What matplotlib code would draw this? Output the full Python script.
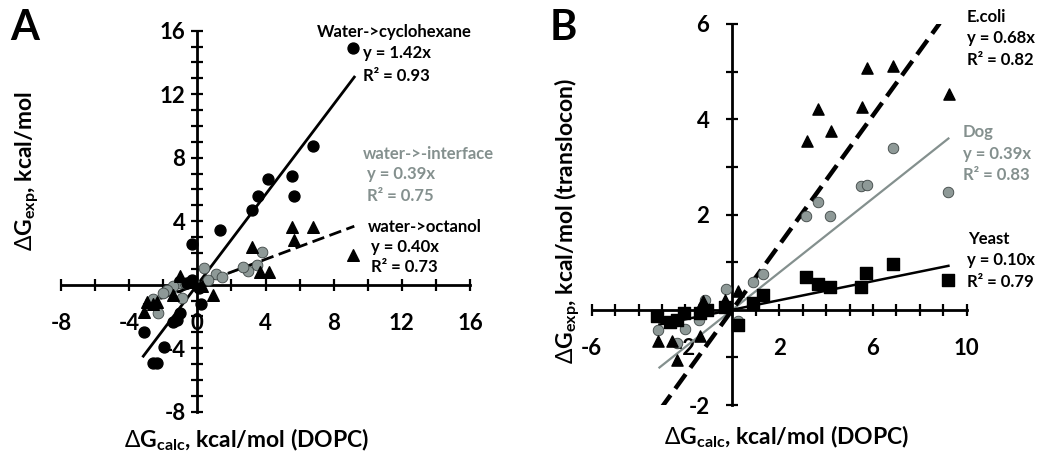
import matplotlib.pyplot as plt

plt.rcParams['font.family'] = ['Lato', 'DejaVu Sans']
plt.rcParams['mathtext.fontset'] = 'custom'
plt.rcParams['mathtext.rm'] = 'Lato'
plt.rcParams['mathtext.it'] = 'Lato'
plt.rcParams['mathtext.bf'] = 'Lato:bold'

GRAY = '#84908e'
GRAY_FILL = '#8e9997'

# ---------------- panel A data ----------------
cyc_x = [9.16, 6.80, 5.54, 5.70, 4.17, 3.58, 3.19, 1.33, -0.29, 0.22, -1.02, -1.21, -1.40,
         -3.13, -1.95, -2.58, -2.38, -0.6, 0.1, -0.3]
cyc_y = [14.93, 8.74, 6.85, 5.59, 6.66, 5.59, 4.71, 3.45, 2.56, -1.22, -1.80, -2.25, -2.35,
         -2.96, -3.9, -4.91, -4.91, 0.1, -0.2, 0.3]
oct_x = [5.58, 6.81, 5.69, 3.19, 9.16, 3.68, 4.23, 0.94, -1.02, -3.13, -2.38, -1.41, 0.3,
         -2.97, -0.4, -2.6]
oct_y = [3.65, 3.65, 2.82, 2.36, 1.87, 0.82, 0.82, -0.65, 0.57, -1.70, -1.07, -0.65, -0.1,
         -1.07, 0.2, -1.2]
int_x = [3.78, 3.52, 2.99, 2.70, 0.39, 1.10, 1.43, -1.0, -0.7, -1.41, -1.8, -2.0, -0.92,
         -2.78, -2.29, -2.6, -0.2, 0.6]
int_y = [2.08, 1.24, 0.88, 1.13, 1.03, 0.67, 0.47, 0.13, 0.1, -0.08, -0.33, -0.5, -0.82,
         -1.07, -1.80, -0.9, 0.1, 0.3]
fitA_x = [-3.17, 9.21]
int_fit_x = [-2.8, 3.8]
cyc_slope, oct_slope, int_slope = 1.42, 0.40, 0.39

# ---------------- panel B data ----------------
eco_x = [5.73, 6.84, 9.24, 5.52, 3.64, 4.21, 3.17, 0.23, -0.3, -0.25, -1.26, -3.16, -2.59,
         -2.35, -1.38]
eco_y = [5.07, 5.11, 4.53, 4.25, 4.22, 3.76, 3.55, 0.40, 0.2, 0.1, 0.19, -0.65, -0.65,
         -1.05, -0.56]
dog_x = [6.84, 9.22, 5.48, 5.73, 3.64, 3.14, 4.17, 1.32, 0.90, -0.28, -1.16, -1.41, -2.02,
         -3.16, -2.37, 0.26]
dog_y = [3.39, 2.48, 2.59, 2.61, 2.27, 1.96, 1.96, 0.75, 0.59, 0.43, 0.21, -0.21, -0.41,
         -0.42, -0.70, -0.23]
yst_x = [6.84, 9.19, 5.70, 5.48, 3.13, 3.64, 4.17, 1.32, 0.90, 0.26, -3.23, -2.66, -2.37,
         -2.05, -1.38, -1.1, -0.3]
yst_y = [0.96, 0.63, 0.77, 0.47, 0.68, 0.54, 0.47, 0.31, 0.14, -0.32, -0.13, -0.25, -0.22,
         -0.07, -0.07, 0.0, 0.05]
eco_fit_x = [-3.08, 8.85]
fitB_x = [-3.11, 9.22]
eco_slope, dog_slope, yst_slope = 0.68, 0.39, 0.10

# ticks
A_ticks_x = list(range(-8, 17, 2))
A_ticks_y = list(range(-8, 17, 1))
A_labels = [-8, -4, 0, 4, 8, 12, 16]
B_ticks_x = list(range(-6, 11, 1))
B_ticks_y = list(range(-2, 7, 1))
B_labels_x = [-6, -2, 2, 6, 10]
B_labels_y = [-2, 0, 2, 4, 6]

W, H = 1050, 465


def axes_px(fig, x0, x1, y_top, y_bot):
    return fig.add_axes([x0 / W, 1 - y_bot / H, (x1 - x0) / W, (y_bot - y_top) / H])


def put(fig, xp, yp, txt, **kw):
    # позиция в пикселях от левого верхнего угла
    return fig.text(xp / W, 1 - yp / H, txt, **kw)


def style_axes(ax, xt, yt, xl, yl, ypad):
    for s in ['top', 'right']:
        ax.spines[s].set_visible(False)
    for s in ['left', 'bottom']:
        ax.spines[s].set_position(('data', 0))
        ax.spines[s].set_linewidth(2.0)
    ax.set_xticks(xt)
    ax.set_xticklabels([str(t) if t in xl else '' for t in xt], fontweight='bold')
    ax.set_yticks(yt)
    ax.set_yticklabels([str(t) if t in yl else '' for t in yt], fontweight='bold')
    ax.tick_params(axis='both', direction='inout', length=9, width=1.6, labelsize=16)
    ax.tick_params(axis='x', pad=16)
    ax.tick_params(axis='y', pad=ypad)
    ax.patch.set_alpha(0)


fig = plt.figure(figsize=(10.5, 4.65), dpi=100)
ann = dict(fontsize=12, fontweight='bold', va='center')
lab = dict(fontsize=16.5, fontweight='bold', ha='center', va='center')
exp_lab = r'$\Delta\mathbf{G}_{\mathbf{exp}}$'
calc_lab = r'$\Delta\mathbf{G}_{\mathbf{calc}}$'

# ---------------- panel A ----------------
axA = axes_px(fig, 61, 470, 30.7, 411.7)
axA.set_xlim(-8, 16)
axA.set_ylim(-8, 16)
style_axes(axA, A_ticks_x, A_ticks_y, A_labels, A_labels, 4)

axA.plot(int_fit_x, [int_slope * v for v in int_fit_x], color=GRAY, lw=1.5, zorder=2)
axA.plot(fitA_x, [cyc_slope * v for v in fitA_x], color='black', lw=2.0, zorder=3)
axA.plot(fitA_x, [oct_slope * v for v in fitA_x], color='black', lw=2.0, ls=(0, (4.5, 2)), zorder=3)
axA.scatter(int_x, int_y, s=60, c=GRAY_FILL, edgecolors='#3d4544', linewidths=0.6, zorder=4)
axA.scatter(cyc_x, cyc_y, s=62, c='black', zorder=5)
axA.scatter(oct_x, oct_y, s=70, c='black', marker='^', zorder=5)

for txt, xp, yp, col in [('Water->cyclohexane', 317, 32, 'black'),
                         ('y = 1.42x', 363, 53, 'black'), ('R² = 0.93', 363, 76, 'black'),
                         ('water->-interface', 363, 154, GRAY), ('y = 0.39x', 367, 174, GRAY),
                         ('R² = 0.75', 367, 196, GRAY), ('water->octanol', 368, 227, 'black'),
                         ('y = 0.40x', 371, 247, 'black'), ('R² = 0.73', 371, 267, 'black')]:
    put(fig, xp, yp, txt, color=col, **ann)

put(fig, 27, 171, exp_lab + ', kcal/mol', rotation=90, **lab)
put(fig, 247, 440, calc_lab + ', kcal/mol (DOPC)', **lab)
put(fig, 25, 28, 'A', fontsize=30, fontweight='bold', ha='center', va='center')

# ---------------- panel B ----------------
axB = axes_px(fig, 591.7, 966.7, 24, 405)
axB.set_xlim(-6, 10)
axB.set_ylim(-2, 6)
style_axes(axB, B_ticks_x, B_ticks_y, B_labels_x, B_labels_y, 12)

axB.plot(fitB_x, [dog_slope * v for v in fitB_x], color=GRAY, lw=1.6, zorder=2)
axB.plot(fitB_x, [yst_slope * v for v in fitB_x], color='black', lw=1.8, zorder=3)
axB.plot(eco_fit_x, [eco_slope * v for v in eco_fit_x], color='black', lw=3.2,
         ls=(0, (4, 1.8)), zorder=3)
axB.scatter(dog_x, dog_y, s=58, c=GRAY_FILL, edgecolors='#3d4544', linewidths=0.6, zorder=4)
axB.scatter(eco_x, eco_y, s=65, c='black', marker='^', zorder=5)
axB.scatter(yst_x, yst_y, s=70, c='black', marker='s', zorder=5)

for txt, xp, yp, col in [('E.coli', 967, 17, 'black'), ('y = 0.68x', 967, 38, 'black'),
                         ('R² = 0.82', 967, 60, 'black'), ('Dog', 963, 132, GRAY),
                         ('y = 0.39x', 963, 154, GRAY), ('R² = 0.83', 963, 175, GRAY),
                         ('Yeast', 968, 239, 'black'), ('y = 0.10x', 967, 260, 'black'),
                         ('R² = 0.79', 967, 282, 'black')]:
    put(fig, xp, yp, txt, color=col, **ann)

put(fig, 567, 221, exp_lab + ', kcal/mol (translocon)', rotation=90, **lab)
put(fig, 787, 437, calc_lab + ', kcal/mol (DOPC)', **lab)
put(fig, 563, 28, 'B', fontsize=30, fontweight='bold', ha='center', va='center')

fig.savefig('out.png', dpi=100)
